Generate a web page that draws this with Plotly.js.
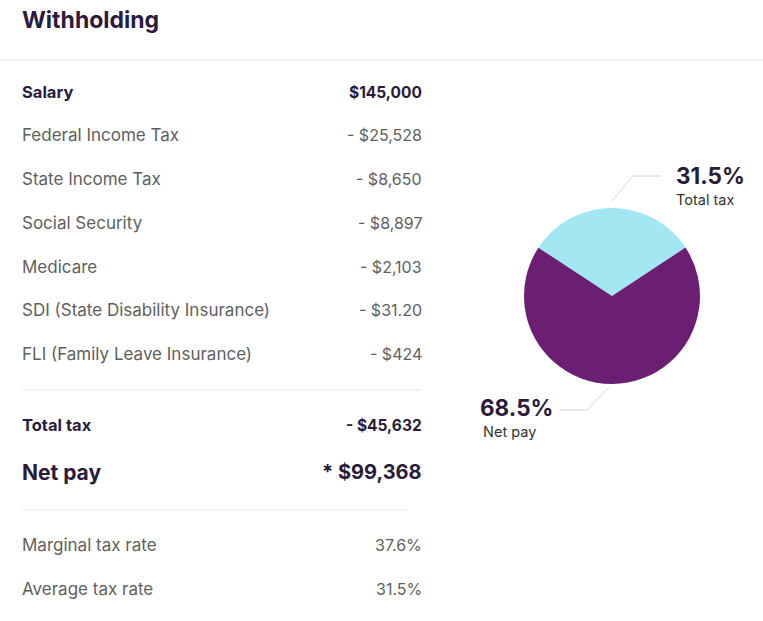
<!DOCTYPE html>
<html>
<head>
<meta charset="utf-8">
<script src="https://cdn.plot.ly/plotly-3.0.1.min.js"></script>
<style>
html,body{margin:0;padding:0;background:#fff;}
#chart{width:763px;height:621px;}
</style>
</head>
<body>
<div id="chart"></div>
<script>
// ---- data ----
var titleText = "Withholding";
var rowLabels = ["Salary", "Federal Income Tax", "State Income Tax", "Social Security", "Medicare",
  "SDI (State Disability Insurance)", "FLI (Family Leave Insurance)", "Total tax", "Net pay",
  "Marginal tax rate", "Average tax rate"];
var rowValues = ["$145,000", "- $25,528", "- $8,650", "- $8,897", "- $2,103",
  "- $31.20", "- $424", "- $45,632", "* $99,368", "37.6%", "31.5%"];
var rowStyle = ["bold", "plain", "plain", "plain", "plain", "plain", "plain", "bold", "big", "plain", "plain"];
var pieLabels = ["Total tax", "Net pay"];
var pieValues = [45632, 99368];
var piePercents = ["31.5%", "68.5%"];
var pieColors = ["#a3e7f3", "#6a1f72"];

// ---- layout helpers (pixel -> paper) ----
var W = 763, H = 621;
function px(x){ return x / W; }
function py(y){ return 1 - y / H; }

var rowY = [92, 135, 179, 223, 267, 310, 354, 425, 472, 545, 589];
var FONT = "Inter, 'Open Sans', sans-serif";
var DARK = "#2a1b3b", GRAY = "#5f5f5f";

var annotations = [];
annotations.push({text: "<b>" + titleText + "</b>", x: px(20), y: py(20), xref: "paper", yref: "paper",
  xanchor: "left", yanchor: "middle", showarrow: false, font: {family: FONT, size: 23, color: DARK}});

rowLabels.forEach(function(lbl, i){
  var st = rowStyle[i];
  var lsize = st === "big" ? 21 : (st === "bold" ? 16.5 : 17);
  var vsize = st === "big" ? 20 : (st === "bold" ? 15.5 : 16);
  var col = st === "plain" ? GRAY : DARK;
  var t = st === "plain" ? lbl : "<b>" + lbl + "</b>";
  var v = st === "plain" ? rowValues[i] : "<b>" + rowValues[i] + "</b>";
  annotations.push({text: t, x: px(20), y: py(rowY[i]), xref: "paper", yref: "paper",
    xanchor: "left", yanchor: "middle", showarrow: false, font: {family: FONT, size: lsize, color: col}});
  annotations.push({text: v, x: px(424), y: py(rowY[i]), xref: "paper", yref: "paper",
    xanchor: "right", yanchor: "middle", showarrow: false, font: {family: FONT, size: vsize, color: col}});
});

// pie labels
annotations.push({text: "<b>" + piePercents[0] + "</b>", x: px(674), y: py(176), xref: "paper", yref: "paper",
  xanchor: "left", yanchor: "middle", showarrow: false, font: {family: FONT, size: 22.5, color: DARK}});
annotations.push({text: pieLabels[0], x: px(674), y: py(199), xref: "paper", yref: "paper",
  xanchor: "left", yanchor: "middle", showarrow: false, font: {family: FONT, size: 14.5, color: "#333"}});
annotations.push({text: "<b>" + piePercents[1] + "</b>", x: px(478), y: py(407), xref: "paper", yref: "paper",
  xanchor: "left", yanchor: "middle", showarrow: false, font: {family: FONT, size: 22.5, color: DARK}});
annotations.push({text: pieLabels[1], x: px(481), y: py(431), xref: "paper", yref: "paper",
  xanchor: "left", yanchor: "middle", showarrow: false, font: {family: FONT, size: 14.5, color: "#333"}});

var LINE = {color: "#efefef", width: 1.5};
var LEAD = {color: "#d6d6d6", width: 1};
var shapes = [
  {type: "line", xref: "paper", yref: "paper", x0: 0, x1: 1, y0: py(60), y1: py(60), line: LINE},
  {type: "line", xref: "paper", yref: "paper", x0: px(22), x1: px(422), y0: py(390), y1: py(390), line: LINE},
  {type: "line", xref: "paper", yref: "paper", x0: px(22), x1: px(408), y0: py(510), y1: py(510), line: LINE},
  {type: "path", xref: "paper", yref: "paper",
    path: "M " + px(612) + " " + py(201) + " L " + px(633) + " " + py(176) + " L " + px(661) + " " + py(176), line: LEAD},
  {type: "path", xref: "paper", yref: "paper",
    path: "M " + px(609) + " " + py(387) + " L " + px(587) + " " + py(410) + " L " + px(560) + " " + py(410), line: LEAD}
];

var pieTrace = {
  type: "pie",
  labels: pieLabels,
  values: pieValues,
  marker: {colors: pieColors, line: {width: 0}},
  sort: false,
  direction: "clockwise",
  rotation: -56.7,
  textinfo: "none",
  hoverinfo: "label+percent",
  domain: {x: [px(524), px(700)], y: [py(384), py(208)]},
  showlegend: false
};

var layout = {
  width: W, height: H,
  margin: {l: 0, r: 0, t: 0, b: 0},
  paper_bgcolor: "#ffffff",
  plot_bgcolor: "#ffffff",
  showlegend: false,
  annotations: annotations,
  shapes: shapes
};

Plotly.newPlot("chart", [pieTrace], layout, {displayModeBar: false, staticPlot: true});
</script>
</body>
</html>
